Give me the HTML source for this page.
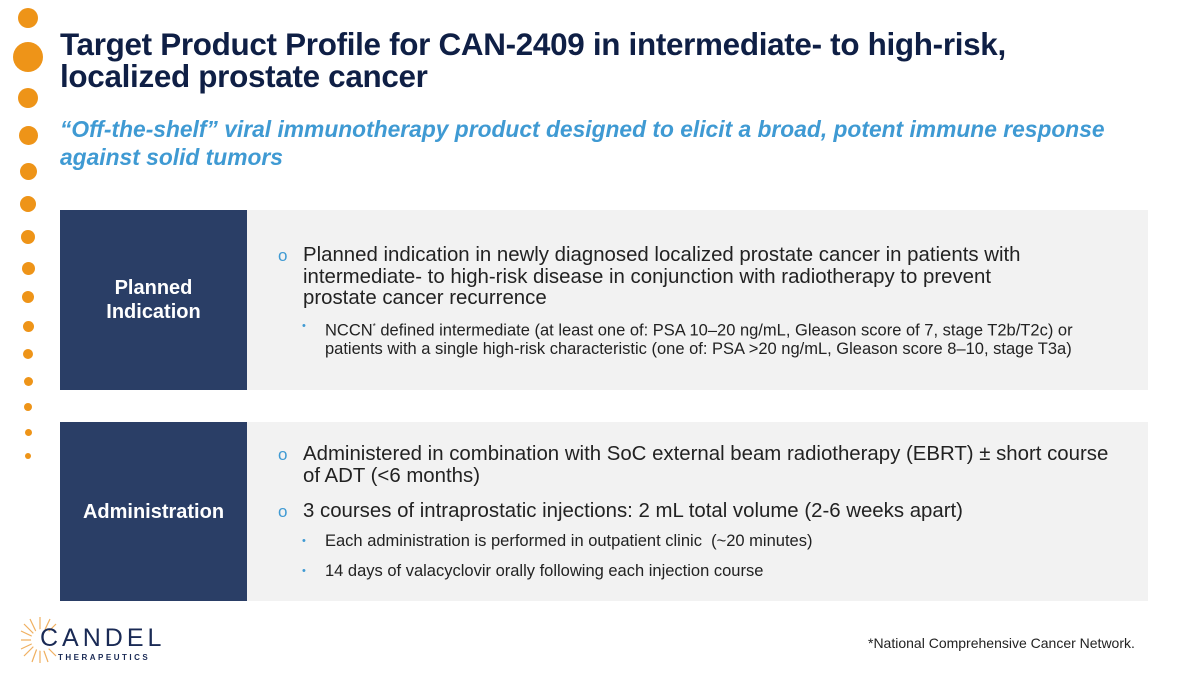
<!DOCTYPE html>
<html><head><style>
body{margin:0;width:1200px;height:675px;background:#fff;position:relative;overflow:hidden;font-family:"Liberation Sans",sans-serif}
.d{position:absolute;border-radius:50%;background:#ee9418}
.t{position:absolute;left:60px;top:29px;font-size:31.4px;font-weight:bold;color:#0f1f45;line-height:31.5px;letter-spacing:-0.3px;white-space:nowrap}
.s{position:absolute;left:60px;top:115px;font-size:22.8px;font-weight:bold;font-style:italic;color:#3f9ad3;line-height:28px;white-space:nowrap}
.box{position:absolute;left:60px;width:1088px;background:#f2f2f2}
.lab{position:absolute;left:0;top:0;bottom:0;width:187px;background:#2a3e66;color:#fff;font-weight:bold;font-size:20px;display:flex;align-items:center;justify-content:center;text-align:center;line-height:24px}
.c{position:absolute;left:215px;right:0;color:#222;white-space:nowrap}
.p{position:relative;padding-left:28px;font-size:20.4px;line-height:21.5px}
.p:before{content:"o";position:absolute;left:3px;top:0;color:#3f9ad3;font-size:17px}
.b{position:relative;padding-left:50px;font-size:16.5px;line-height:19px}
.b:before{content:"•";position:absolute;left:27px;color:#3f9ad3;font-size:11px}
</style></head><body>
<div class="d" style="left:18px;top:8px;width:20px;height:20px"></div>
<div class="d" style="left:13px;top:42px;width:30px;height:30px"></div>
<div class="d" style="left:18px;top:88px;width:20px;height:20px"></div>
<div class="d" style="left:18.5px;top:125.5px;width:19px;height:19px"></div>
<div class="d" style="left:19.5px;top:162.5px;width:17px;height:17px"></div>
<div class="d" style="left:20px;top:196px;width:16px;height:16px"></div>
<div class="d" style="left:21px;top:230px;width:14px;height:14px"></div>
<div class="d" style="left:21.5px;top:261.5px;width:13px;height:13px"></div>
<div class="d" style="left:22px;top:291px;width:12px;height:12px"></div>
<div class="d" style="left:22.5px;top:320.5px;width:11px;height:11px"></div>
<div class="d" style="left:23px;top:349px;width:10px;height:10px"></div>
<div class="d" style="left:23.5px;top:376.5px;width:9px;height:9px"></div>
<div class="d" style="left:24px;top:403px;width:8px;height:8px"></div>
<div class="d" style="left:24.5px;top:428.5px;width:7px;height:7px"></div>
<div class="d" style="left:25px;top:453px;width:6px;height:6px"></div>
<div class="t">Target Product Profile for CAN-2409 in intermediate- to high-risk,<br>localized prostate cancer</div>
<div class="s">“Off-the-shelf” viral immunotherapy product designed to elicit a broad, potent immune response<br>against solid tumors</div>
<div class="box" style="top:210px;height:180px">
<div class="lab">Planned<br>Indication</div>
<div class="c" style="top:35px">
<div class="p">Planned indication in newly diagnosed localized prostate cancer in patients with<br>intermediate- to high-risk disease in conjunction with radiotherapy to prevent<br>prostate cancer recurrence</div>
<div class="b" style="margin-top:7px">NCCN<sup style="font-size:8px">*</sup> defined intermediate (at least one of: PSA 10–20 ng/mL, Gleason score of 7, stage T2b/T2c) or<br>patients with a single high-risk characteristic (one of: PSA &gt;20 ng/mL, Gleason score 8–10, stage T3a)</div>
</div></div>
<div class="box" style="top:422px;height:179px">
<div class="lab">Administration</div>
<div class="c" style="top:22px">
<div class="p">Administered in combination with SoC external beam radiotherapy (EBRT) ± short course<br>of ADT (&lt;6 months)</div>
<div class="p" style="margin-top:14px">3 courses of intraprostatic injections: 2 mL total volume (2-6 weeks apart)</div>
<div class="b" style="margin-top:9px">Each administration is performed in outpatient clinic&nbsp; (~20 minutes)</div>
<div class="b" style="margin-top:11px">14 days of valacyclovir orally following each injection course</div>
</div></div>
<svg style="position:absolute;left:20px;top:615px" width="40" height="50">
<g stroke="#f0b060" stroke-width="1.2">
<line x1="20" y1="25" x2="20" y2="2"/><line x1="20" y1="25" x2="36" y2="9"/><line x1="20" y1="25" x2="4" y2="9"/><line x1="20" y1="25" x2="1" y2="25"/><line x1="20" y1="25" x2="4" y2="41"/><line x1="20" y1="25" x2="20" y2="48"/><line x1="20" y1="25" x2="36" y2="41"/><line x1="20" y1="25" x2="10" y2="4"/><line x1="20" y1="25" x2="30" y2="4"/><line x1="20" y1="25" x2="1" y2="16"/><line x1="20" y1="25" x2="1" y2="34"/><line x1="20" y1="25" x2="12" y2="47"/><line x1="20" y1="25" x2="28" y2="47"/>
</g><circle cx="22" cy="25" r="11" fill="#fff"/></svg>
<div style="position:absolute;left:40px;top:624px;font-size:25px;letter-spacing:4px;color:#1a2a55">CANDEL</div>
<div style="position:absolute;left:58px;top:653px;font-size:8px;letter-spacing:2.5px;color:#1a2a55;font-weight:bold">THERAPEUTICS</div>
<div style="position:absolute;left:868px;top:635px;font-size:14px;color:#222">*National Comprehensive Cancer Network.</div>
</body></html>
